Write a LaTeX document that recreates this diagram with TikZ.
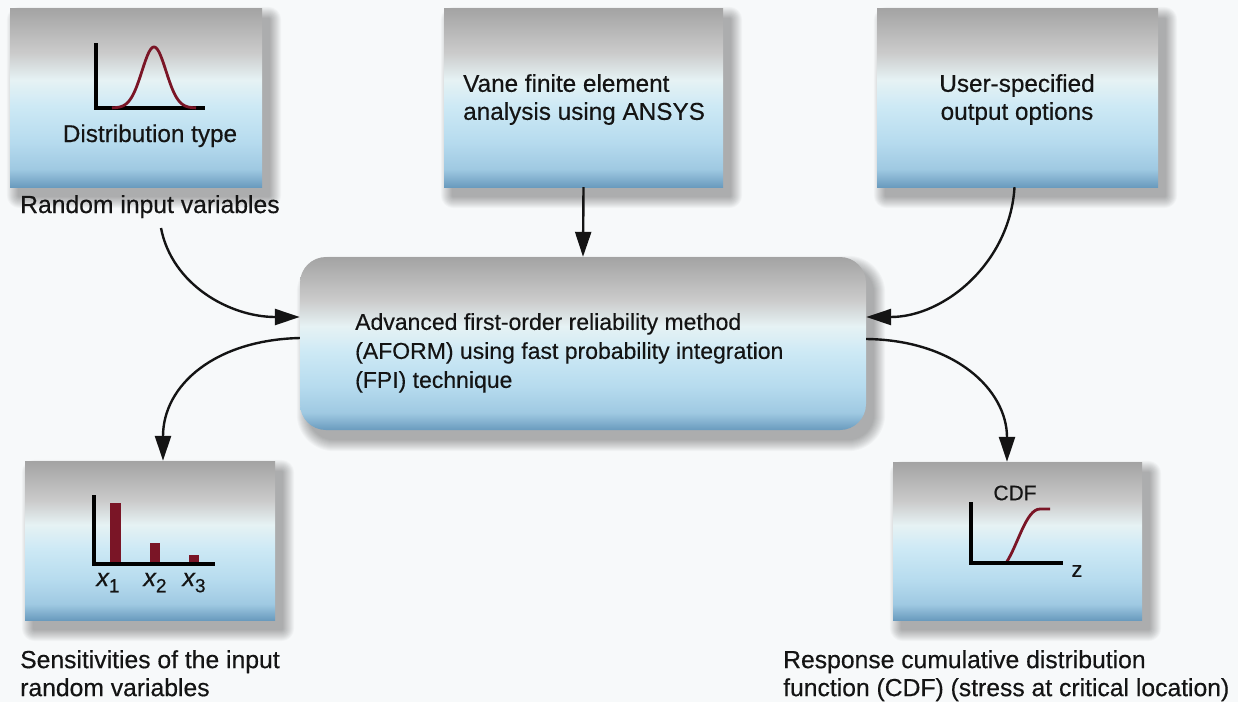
\documentclass[tikz,border=0pt]{standalone}
\usepackage{fontspec}
\setmainfont{Liberation Sans}[FakeBold=0.4]
\usetikzlibrary{arrows.meta}
\definecolor{sh0}{HTML}{6A9BBE}
\definecolor{sh1}{HTML}{9FC9E2}
\definecolor{sh2}{HTML}{B6DBEE}
\definecolor{sh3}{HTML}{CDE9F5}
\definecolor{sh4}{HTML}{E6F2F4}
\definecolor{sh5}{HTML}{CBCBCB}
\definecolor{sh6}{HTML}{A3A3A3}
\definecolor{bgc}{HTML}{F7F9FA}
\definecolor{plotred}{HTML}{7A1526}
\definecolor{ink}{HTML}{141414}
\pgfdeclareverticalshading{boxshade}{100bp}{color(0bp)=(sh0); color(25bp)=(sh0); color(30bp)=(sh1); color(37.5bp)=(sh2); color(47.5bp)=(sh3); color(55bp)=(sh4); color(62.5bp)=(sh5); color(75bp)=(sh6); color(100bp)=(sh6)}
\pgfdeclarelayer{bottomlayer}
\pgfdeclarelayer{shadowlayer}
\pgfsetlayers{bottomlayer,shadowlayer,main}
\newcommand\boxshadow[2]{%
  \begin{pgfonlayer}{shadowlayer}
  \foreach \k in {0,...,11}{
    \pgfmathsetmacro\rr{#2+\k}
    \fill[black,opacity=0.028,rounded corners=\rr pt]
      ([shift={(8-\k,10-\k)}]#1.north west) rectangle ([shift={(8+\k,10+\k)}]#1.south east);
  }
  \end{pgfonlayer}}
\begin{document}
\begin{tikzpicture}[x=1pt,y=-1pt,
  box/.style={draw=none,inner sep=0pt,shading=boxshade},
  txt/.style={inner sep=0pt,text=ink,font=\fontsize{24.3}{28}\selectfont},
  lab/.style={inner sep=0pt,text=ink,font=\fontsize{24.7}{28}\selectfont},
  arr/.style={line width=2.4pt,draw=ink,-{Triangle[length=25pt,width=16pt]}},
  axisline/.style={line width=3.2pt,draw=black,line join=miter},
  curve/.style={line width=2.8pt,draw=plotred},
  barfill/.style={fill=plotred}]
\begin{pgfonlayer}{bottomlayer}
\fill[bgc] (0,0) rectangle (1238,702);
\end{pgfonlayer}
\useasboundingbox (0,0) rectangle (1238,702);

% boxes
\node[box,minimum width=252,minimum height=179] (b1) at (136,97.5) {};
\node[box,minimum width=279,minimum height=179] (b2) at (583.5,97.5) {};
\node[box,minimum width=281,minimum height=179] (b3) at (1017.5,97.5) {};
\node[box,rounded corners=26pt,minimum width=566,minimum height=173] (c) at (583,343.5) {};
\node[box,minimum width=250,minimum height=159] (s) at (150,540.5) {};
\node[box,minimum width=249,minimum height=158] (r) at (1017.5,541) {};
\boxshadow{b1}{2}
\boxshadow{b2}{2}
\boxshadow{b3}{2}
\boxshadow{c}{26}
\boxshadow{s}{2}
\boxshadow{r}{2}

% texts
\node[txt,anchor=base] (t1) at (150,142) {Distribution type};
\node[txt,anchor=north west,align=left] (t2) at (463,74) {Vane finite element\\analysis using ANSYS};
\node[txt,anchor=north,align=center] (t3) at (1017,74) {User-specified\\output options};
\node[inner sep=0pt,text=ink,anchor=north west,align=left,font=\fontsize{23}{29}\selectfont] (tc) at (355,313)
  {Advanced first-order reliability method\\(AFORM) using fast probability integration\\(FPI) technique};
\node[lab,anchor=base west] (lrand) at (20,213) {Random input variables};
\node[lab,anchor=north west,align=left] (lsens) at (20,650) {Sensitivities of the input\\random variables};
\node[lab,anchor=north west,align=left] (lresp) at (783,650) {Response cumulative distribution\\function (CDF) (stress at critical location)};

% bell curve
\draw[axisline] (96,43) -- (96,108) -- (205,108);
\draw[curve] plot[domain=-42:42,samples=80,smooth] ({154+\x},{108-61*exp(-(\x*\x/144)/2)});

% bar chart
\fill[barfill] (110,503) rectangle (121,564);
\fill[barfill] (150,543) rectangle (160,564);
\fill[barfill] (189,555) rectangle (199,564);
\draw[axisline] (94,495) -- (94,564) -- (215,564);
\node[inner sep=0pt,text=ink,anchor=base,font=\fontsize{25}{28}\selectfont] (x1) at (108,586) {\itshape x\upshape\raisebox{-0.25em}{\fontsize{19}{19}\selectfont 1}};
\node[inner sep=0pt,text=ink,anchor=base,font=\fontsize{25}{28}\selectfont] (x2) at (155,586) {\itshape x\upshape\raisebox{-0.25em}{\fontsize{19}{19}\selectfont 2}};
\node[inner sep=0pt,text=ink,anchor=base,font=\fontsize{25}{28}\selectfont] (x3) at (194,586) {\itshape x\upshape\raisebox{-0.25em}{\fontsize{19}{19}\selectfont 3}};

% CDF
\draw[curve] (1006,563) .. controls (1018,545) and (1026,509) .. (1040,509) -- (1050,509);
\draw[axisline] (971,502) -- (971,563) -- (1063,563);
\node[inner sep=0pt,text=ink,font=\fontsize{21}{24}\selectfont] (cdf) at (1015,493) {CDF};
\node[inner sep=0pt,text=ink,font=\fontsize{22}{24}\selectfont] (zl) at (1077,571) {z};

% connectors
\coordinate (a1s) at (161,228);
\draw[arr] (b2.south) -- (c.north);
\draw[arr] (a1s) .. controls (172,285) and (230,317) .. ([yshift=26.5pt]c.west);
\draw[arr] ([xshift=-3pt]b3.south) .. controls (1010,262) and (945,317) .. ([yshift=26.5pt]c.east);
\draw[arr] ([yshift=5.5pt]c.west) .. controls (215,340) and (163,385) .. ([xshift=13pt]s.north);
\draw[arr] ([yshift=4.5pt]c.east) .. controls (955,340) and (1007,390) .. ([xshift=-10.5pt]r.north);
\end{tikzpicture}
\end{document}
